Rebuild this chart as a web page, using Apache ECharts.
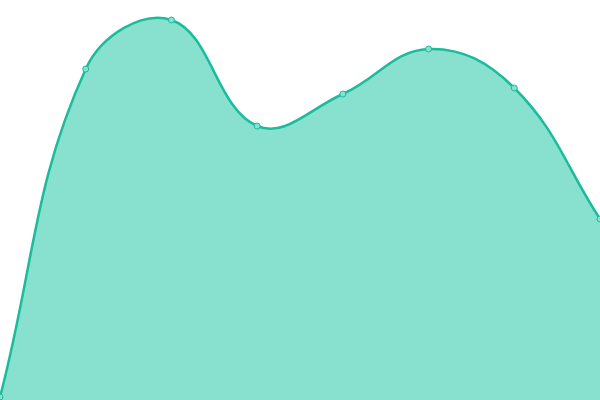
<!DOCTYPE html>
<html>
<head>
<meta charset="utf-8">
<script src="https://cdn.jsdelivr.net/npm/echarts@6/dist/echarts.min.js"></script>
<style>
  html, body { margin: 0; padding: 0; background: #fff; }
  #chart { width: 600px; height: 400px; }
</style>
</head>
<body>
<div id="chart"></div>
<script>
// Data
const categories = ['A', 'B', 'C', 'D', 'E', 'F', 'G', 'H'];
const values = [3, 331, 380, 274, 306, 351, 312, 181];

const lineColor = '#1abc9c';
const areaColor = '#88e0cf';
const tension = 0.4;

// Cardinal spline: control points follow the prev->next direction,
// split by neighbouring segment lengths (end points reuse themselves)
function buildPath(pts) {
  let d = 'M' + pts[0][0] + ' ' + pts[0][1];
  const cps = pts.map((p, i) => {
    const prev = pts[i - 1] || p;
    const next = pts[i + 1] || p;
    const vx = next[0] - prev[0];
    const vy = next[1] - prev[1];
    const l0 = Math.hypot(p[0] - prev[0], p[1] - prev[1]);
    const l1 = Math.hypot(next[0] - p[0], next[1] - p[1]);
    const r = (l0 + l1) ? l1 / (l0 + l1) : 0.5;
    return {
      c0: [p[0] - vx * tension * (1 - r), p[1] - vy * tension * (1 - r)],
      c1: [p[0] + vx * tension * r, p[1] + vy * tension * r]
    };
  });
  for (let i = 1; i < pts.length; i++) {
    const a = cps[i - 1].c1;
    const b = cps[i].c0;
    const p = pts[i];
    d += ' C' + a[0] + ' ' + a[1] + ' ' + b[0] + ' ' + b[1] + ' ' + p[0] + ' ' + p[1];
  }
  return d;
}

const chart = echarts.init(document.getElementById('chart'));

const option = {
  animation: false,
  grid: { left: 0, right: 0, top: 0, bottom: 0 },
  xAxis: {
    type: 'category',
    boundaryGap: false,
    data: categories,
    show: false
  },
  yAxis: {
    type: 'value',
    min: 0,
    max: 400,
    show: false
  },
  series: [
    {
      type: 'custom',
      data: [0],
      z: 1,
      renderItem: function (params, api) {
        const pts = values.map((v, i) => api.coord([i, v]));
        const base = api.coord([0, 0])[1];
        const curve = buildPath(pts);
        const last = pts[pts.length - 1];
        const area = curve + ' L' + last[0] + ' ' + base + ' L' + pts[0][0] + ' ' + base + ' Z';
        return {
          type: 'group',
          children: [
            {
              type: 'path',
              shape: { pathData: area },
              style: { fill: areaColor, stroke: null }
            },
            {
              type: 'path',
              shape: { pathData: curve },
              style: { fill: null, stroke: lineColor, lineWidth: 2.5 }
            }
          ]
        };
      }
    },
    {
      type: 'line',
      z: 3,
      data: values,
      symbol: 'circle',
      symbolSize: 6,
      lineStyle: { opacity: 0 },
      itemStyle: { color: areaColor, borderColor: lineColor, borderWidth: 1 }
    }
  ]
};

chart.setOption(option);
</script>
</body>
</html>
